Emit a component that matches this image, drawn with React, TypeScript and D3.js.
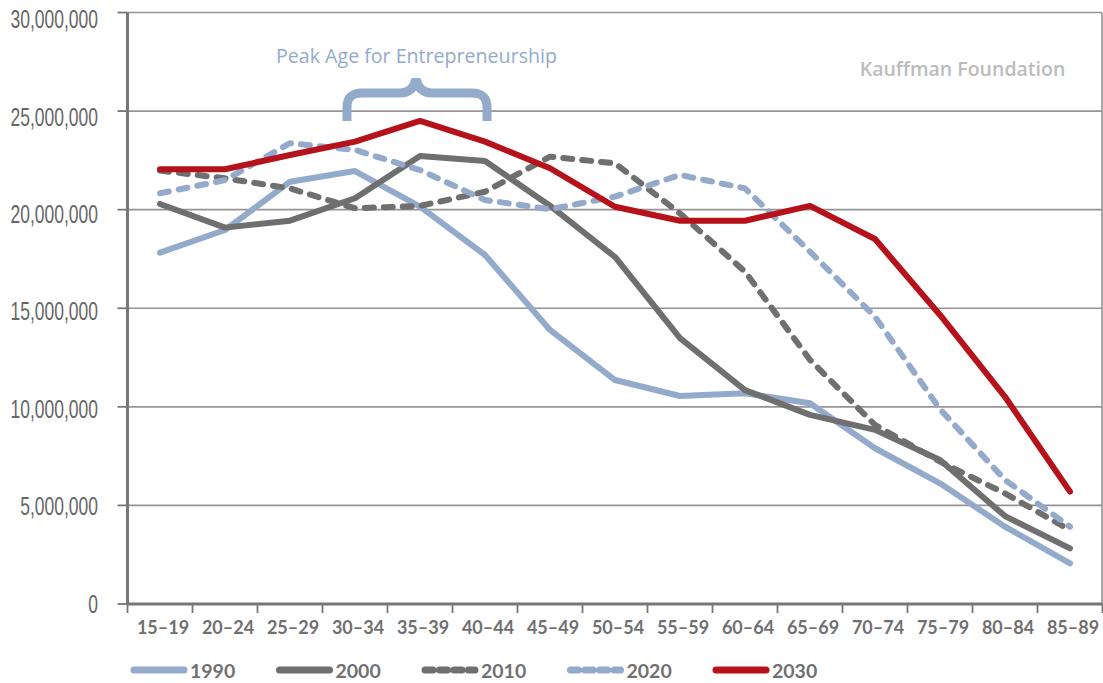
import React from "react";
import * as d3 from "d3";

const categories = ["15–19","20–24","25–29","30–34","35–39","40–44","45–49","50–54","55–59","60–64","65–69","70–74","75–79","80–84","85–89"];
const s1990 = [17.82,18.97,21.42,21.96,20.15,17.7,13.9,11.36,10.55,10.69,10.18,7.9,6.12,3.92,2.06];
const s2000 = [20.29,19.09,19.44,20.58,22.72,22.47,20.2,17.6,13.48,10.85,9.59,8.83,7.3,4.46,2.82];
const s2010 = [21.98,21.59,21.08,20.07,20.19,20.91,22.69,22.35,19.81,16.86,12.38,9.08,7.22,5.61,3.75];
const s2020 = [20.83,21.5,23.37,23.03,22.01,20.49,20.02,20.66,21.76,21.08,17.87,14.57,9.88,6.29,3.92];
const s2030 = [22.05,22.05,22.77,23.45,24.5,23.45,22.1,20.15,19.44,19.44,20.19,18.51,14.66,10.51,5.7];
const yTicks = [0,5000000,10000000,15000000,20000000,25000000,30000000];
const seriesNames = ["1990","2000","2010","2020","2030"];

const BLUE = "#94aacb";
const GRAY = "#6f6f70";
const RED = "#b5121b";

const series = [
  { name: seriesNames[0], values: s1990, color: BLUE, dashed: false },
  { name: seriesNames[1], values: s2000, color: GRAY, dashed: false },
  { name: seriesNames[2], values: s2010, color: GRAY, dashed: true },
  { name: seriesNames[3], values: s2020, color: BLUE, dashed: true },
  { name: seriesNames[4], values: s2030, color: RED, dashed: false },
];

export default function App() {
  const W = 1103, H = 683;
  const left = 127.5, right = 1102.5, top = 12.5, bottom = 604;
  const x = d3.scaleBand<string>().domain(categories).range([left, right]);
  const y = d3.scaleLinear().domain([0, 30000000]).range([bottom, top]);
  const line = d3.line<number>()
    .x((_, i) => (x(categories[i]) as number) + x.bandwidth() / 2)
    .y((v) => y(v * 1e6));
  const fmt = d3.format(",");
  const boundaries = categories.map((c) => x(c) as number).concat([right]);

  return (
    <svg width={W} height={H} style={{ position: "absolute", left: 0, top: 0, background: "#fff" }}>
      {/* gridlines */}
      {yTicks.filter((t) => t > 0).map((t) => (
        <line key={"g" + t} x1={left} x2={right - 0.5} y1={y(t)} y2={y(t)} stroke="#949494" strokeWidth={1.6} />
      ))}
      <line x1={right - 0.5} x2={right - 0.5} y1={top} y2={bottom} stroke="#949494" strokeWidth={1.6} />
      {/* y ticks & labels */}
      {yTicks.map((t) => (
        <g key={"y" + t}>
          <line x1={117.5} x2={left} y1={y(t)} y2={y(t)} stroke="#777" strokeWidth={1.8} />
          <text transform={`translate(98,${y(t) + 8.7 + (t / 30000000) * 7}) scale(0.7,1)`} textAnchor="end" fontFamily="'Liberation Sans', Arial, sans-serif" fontSize={25} fill="#666">
            {fmt(t)}
          </text>
        </g>
      ))}
      {/* axes */}
      <line x1={left} x2={left} y1={top} y2={bottom + 1} stroke="#777" strokeWidth={3} />
      <line x1={left} x2={right} y1={bottom} y2={bottom} stroke="#777" strokeWidth={3} />
      {boundaries.map((b, i) => (
        <line key={"xt" + i} x1={b} x2={b} y1={bottom} y2={bottom + 9} stroke="#777" strokeWidth={1.8} />
      ))}
      {categories.map((c) => (
        <text key={"xl" + c} x={(x(c) as number) + x.bandwidth() / 2 + 3} y={634} textAnchor="middle" fontFamily="Lato, sans-serif" fontWeight={700} fontSize={18} fill="#707070">
          {c}
        </text>
      ))}
      {/* series */}
      {series.map((s) => (
        <path key={s.name} d={line(s.values) as string} fill="none" stroke={s.color} strokeWidth={6}
          strokeLinejoin="round" strokeLinecap="round"
          strokeDasharray={s.dashed ? "9,10" : undefined} />
      ))}
      {/* annotation */}
      <text x={416.5} y={63} textAnchor="middle" fontFamily="'Open Sans', sans-serif" fontSize={19.6} fill={BLUE}>Peak Age for Entrepreneurship</text>
      <path d="M 347 121 L 347 107 Q 347 93 362 93 L 400 93 Q 413 93 416 79 Q 419 93 432 93 L 472 93 Q 487 93 487 107 L 487 121"
        fill="none" stroke={BLUE} strokeWidth={9} />
      <text x={962.5} y={76} textAnchor="middle" fontFamily="'Open Sans', sans-serif" fontSize={19.5} fontWeight={600} fill="#bcbcbc">Kauffman Foundation</text>
      {/* legend */}
      {series.map((s, i) => {
        const lx = 131 + i * 145.5;
        return (
          <g key={"lg" + s.name}>
            <line x1={lx + 3} x2={lx + 53} y1={670} y2={670} stroke={s.color} strokeWidth={7} strokeLinecap="round"
              strokeDasharray={s.dashed ? "8,6.5" : undefined} />
            <text x={lx + 59} y={678} fontFamily="Lato, sans-serif" fontWeight={700} fontSize={19.5} fill="#707070">{s.name}</text>
          </g>
        );
      })}
    </svg>
  );
}
